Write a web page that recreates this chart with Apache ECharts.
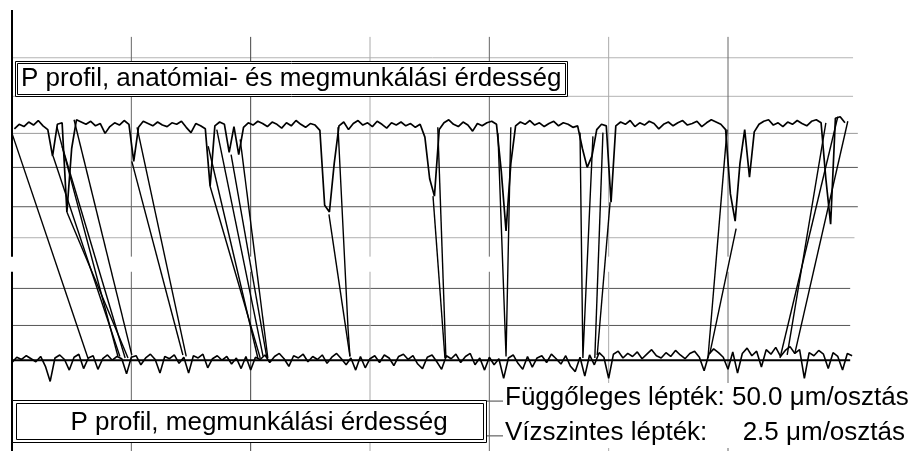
<!DOCTYPE html>
<html><head><meta charset="utf-8">
<script src="https://cdn.jsdelivr.net/npm/echarts@6/dist/echarts.min.js"></script>
<style>html,body{margin:0;padding:0;background:#fff}#c{width:909px;height:451px}</style>
</head><body><div id="c"></div>
<script>
// Horizontal position in µm (2.5 µm / division), vertical in µm (50 µm / division)
// Top profile (anatómiai- és megmunkálási érdesség), sampled every 0.1 µm from 0.05 µm
const topStart = 0.05, topStep = 0.1;
const topProfile = [6,12,9,15,11,17,10,5,-30,12,14,-104,-20,18,15,12,16,10,13,0,
 9,14,11,17,12,-37,8,16,13,10,15,11,9,14,12,16,8,1,13,10,
 6,-70,10,15,12,-25,9,-28,8,14,11,16,13,9,15,12,7,14,10,17,
 12,8,13,11,4,-95,-104,-40,10,15,5,13,17,11,14,9,16,12,7,14,
 11,15,10,13,8,12,-5,-60,-83,5,14,18,12,9,15,11,3,13,10,14,
 16,12,-50,-129,-40,10,15,12,17,11,14,9,13,16,10,14,12,8,10,-20,
 -45,-30,5,12,10,-91,10,15,12,17,9,14,11,16,13,6,12,15,10,14,
 17,11,13,16,9,14,18,15,12,5,-80,-116,-40,5,-58,2,12,16,18,11,
 14,9,15,12,17,13,10,16,18,14,-60,-120,20,22,14];
// Bottom profile (megmunkálási érdesség), sampled every 0.1 µm from -0.1 µm
const bottomStart = -0.1, bottomStep = 0.1;
const bottomProfile = [2,-3,4,1,6,2,-2,5,-8,-28,3,7,1,-13,4,8,-11,3,6,-12,
 2,7,0,5,2,-18,4,6,-6,3,8,1,-17,5,2,7,-4,4,-17,6,
 3,8,-10,2,6,0,5,-5,3,-11,5,-13,4,1,7,-3,5,9,2,-8,
 6,3,8,-2,5,1,7,-4,4,9,2,-6,3,-13,5,-10,2,6,-3,7,
 3,-7,5,8,1,6,-5,-11,4,7,-2,-12,6,2,8,-3,5,9,-6,3,
 -13,4,-6,2,-24,3,7,-4,-12,5,-9,3,6,-3,8,2,-5,6,-8,-15,
 4,-21,7,-6,10,4,-24,8,12,3,9,5,11,2,8,14,6,3,10,5,
 13,7,2,9,12,4,-14,8,15,10,4,-12,11,-17,9,16,6,12,-9,14,
 8,17,5,13,18,9,14,-24,10,6,13,8,-11,10,5,-13,9,6];
// Deep valleys of the top profile (top-profile µm frame)
const valleyLines = [
 [[0.00,0],[1.59,-297]], [[0.86,-30],[2.26,-295]], [[0.94,9],[2.22,-295]],
 [[1.05,-17],[2.37,-297]], [[1.15,-104],[2.43,-297]], [[1.30,18],[2.51,-293]],
 [[2.51,-37],[3.58,-293]], [[2.62,8],[3.65,-295]],
 [[4.11,-17],[5.15,-297]], [[4.15,-70],[5.20,-297]], [[4.29,5],[5.26,-295]],
 [[4.59,-28],[5.34,-297]], [[4.78,-8],[5.36,-297]],
 [[6.64,-107],[7.08,-295]], [[6.83,8],[7.04,-258],[7.08,-295]],
 [[8.82,-83],[9.07,-297]], [[8.92,8],[9.09,-297]],
 [[10.18,0],[10.35,-295],[10.45,8]],
 [[11.90,1],[11.96,-297],[12.17,-4]], [[12.21,-297],[12.38,1]], [[12.26,-293],[12.53,-91]],
 [[14.98,5],[14.58,-297]], [[15.17,-126],[14.62,-291]],
 [[16.09,-297],[17.30,22]], [[16.24,-293],[17.05,14]], [[16.40,-291],[17.51,16]]
];
// Grid lines (top-profile µm frame / µm)
const hGridLines = [100, 49, 0, -45, -97, -138, -205, -254, -300, -354, -400];
const vGridLines = [2.5, 5, 7.5, 10, 12.5, 15];
const titleTop = 'P profil, anatómiai- és megmunkálási érdesség';
const titleBottom = 'P profil, megmunkálási érdesség';
const scaleV = ['Függőleges lépték:', '50.0 μm/osztás'];
const scaleH = ['Vízszintes lépték:', '2.5 μm/osztás'];

// styles
const hStyle = [
 {c:'#b4b4b4', x1:0, x2:17.62, w:1}, {c:'#b4b4b4', x1:0, x2:17.62, w:1},
 {c:'#9a9a9a', x1:0, x2:17.72, w:1}, {c:'#555', x1:0, x2:17.72, w:1},
 {c:'#555', x1:0, x2:17.72, w:1}, {c:'#b0b0b0', x1:0, x2:17.65, w:1},
 {c:'#555', x1:0, x2:17.56, w:1}, {c:'#555', x1:0, x2:17.56, w:1},
 {c:'#000', x1:-0.08, x2:17.56, w:2}, {c:'#444', x1:0, x2:10.33, w:1},
 {c:'#444', x1:0, x2:10.33, w:1}];
const vColors = ['#666', '#444', '#aaa', '#666', '#aaa', '#666'];
const gapTop = -163, gapBottom = -183, lineTop = 127.6, axisTop = 163, yMinTop = -420;

const series = [];
function seg(data, color, width, yIdx, z) {
  series.push({type:'line', data, yAxisIndex:yIdx||0, symbol:'none', showSymbol:false,
    silent:true, animation:false, z:z||1, lineStyle:{color, width}});
}
hGridLines.forEach((v, i) => { const s = hStyle[i]; seg([[s.x1, v],[s.x2, v]], s.c, s.w, 0, s.w > 1 ? 3 : 1); });
vGridLines.forEach((x, i) => {
  seg([[x, lineTop],[x, gapTop]], vColors[i], 1);
  seg([[x, gapBottom],[x, yMinTop]], vColors[i], 1);
});
seg([[0, axisTop],[0, gapTop]], '#000', 2, 0, 4);
seg([[0, gapBottom],[0, yMinTop]], '#000', 2, 0, 4);
valleyLines.forEach(l => seg(l, '#000', 1.4, 0, 5));
seg(topProfile.map((v, i) => [+(topStart + i*topStep).toFixed(2), v]), '#000', 1.7, 0, 6);
seg(bottomProfile.map((v, i) => [+(bottomStart + i*bottomStep).toFixed(2), v]), '#000', 1.6, 1, 6);

const font = '26px "Liberation Sans", Arial, sans-serif';
function txt(x, y, text, align) {
  return {type:'text', x, y, z:110, silent:true,
    style:{text, font, fill:'#000', textAlign:align||'left', align:align||'left',
      textVerticalAlign:'middle', verticalAlign:'middle'}};
}
const chart = echarts.init(document.getElementById('c'), null, {renderer:'canvas'});
chart.setOption({
  animation:false,
  grid:{left:12, top:8.6, width:895, height:444.6, containLabel:false},
  xAxis:{type:'value', min:0, max:18.75, show:false},
  yAxis:[{type:'value', min:-420, max:165, show:false},
         {type:'value', min:-120, max:465, show:false}],
  series,
  graphic:[
    {type:'rect', z:100, silent:true, shape:{x:15.5, y:61.5, width:552, height:35}, style:{fill:'#fff', stroke:'#000', lineWidth:1}},
    {type:'rect', z:101, silent:true, shape:{x:17.5, y:63.5, width:548, height:31}, style:{fill:'none', stroke:'#000', lineWidth:1}},
    txt(21, 79, titleTop),
    {type:'rect', z:100, silent:true, shape:{x:12.5, y:400.5, width:474, height:42}, style:{fill:'#fff', stroke:'#000', lineWidth:1}},
    {type:'rect', z:101, silent:true, shape:{x:16.5, y:403.5, width:467, height:36}, style:{fill:'none', stroke:'#000', lineWidth:1}},
    txt(259, 423, titleBottom, 'center'),
    {type:'rect', z:100, silent:true, shape:{x:503, y:383, width:406, height:65}, style:{fill:'#fff'}},
    txt(505, 398, scaleV[0] + ' ' + scaleV[1]),
    txt(505, 433, scaleH[0]),
    txt(905, 433, scaleH[1], 'right')
  ]
});
</script></body></html>
